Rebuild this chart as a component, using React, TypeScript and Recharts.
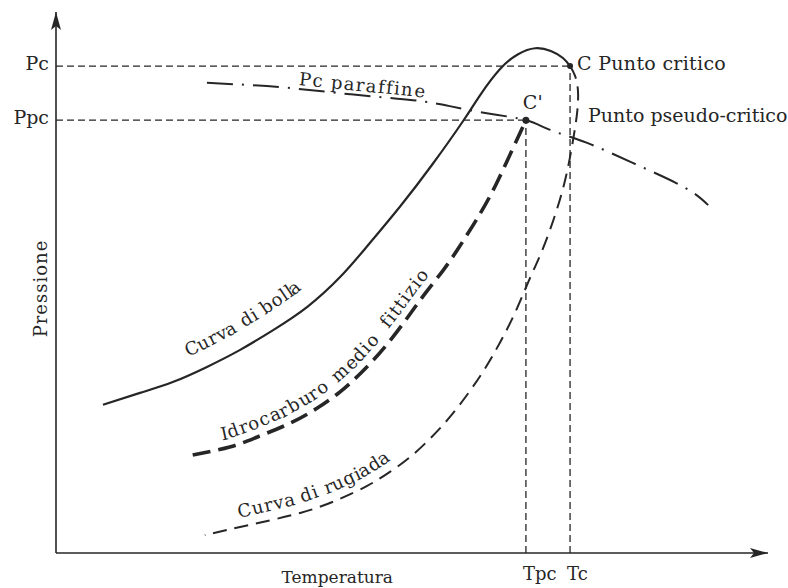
import { LineChart, Line, XAxis, YAxis, ReferenceLine, ReferenceDot } from 'recharts';

// critical and pseudo-critical coordinates (arbitrary T / P units, 0-100)
const Tc = 72.2;
const Tpc = 66;
const Pc = 90;
const Ppc = 80;

// bubble-point curve, ends at the critical point C
const bubbleCurve = [
  { t: 6.6, p: 27.4 },
  { t: 11.8, p: 29.6 },
  { t: 16.4, p: 31.6 },
  { t: 21.2, p: 34.4 },
  { t: 25.8, p: 37.5 },
  { t: 30.5, p: 41.2 },
  { t: 35.3, p: 45.5 },
  { t: 39.9, p: 51.0 },
  { t: 43.7, p: 56.7 },
  { t: 48.3, p: 64.0 },
  { t: 52.9, p: 71.9 },
  { t: 57.2, p: 79.9 },
  { t: 59.6, p: 84.7 },
  { t: 62.4, p: 89.5 },
  { t: 64.9, p: 92.2 },
  { t: 67.3, p: 93.3 },
  { t: 69.5, p: 92.8 },
  { t: 71.2, p: 91.5 },
  { t: 72.2, p: 90.0 },
];

// dew-point curve, from C downwards
const dewCurve = [
  { t: 72.2, p: 90.0 },
  { t: 72.9, p: 88.2 },
  { t: 73.3, p: 85.6 },
  { t: 73.2, p: 81.5 },
  { t: 72.5, p: 75.4 },
  { t: 71.5, p: 68.9 },
  { t: 70.1, p: 62.5 },
  { t: 68.3, p: 56.0 },
  { t: 66.4, p: 50.3 },
  { t: 64.5, p: 44.5 },
  { t: 62.4, p: 39.0 },
  { t: 60.3, p: 34.2 },
  { t: 58.1, p: 29.9 },
  { t: 55.3, p: 25.1 },
  { t: 52.5, p: 21.1 },
  { t: 49.7, p: 17.7 },
  { t: 46.9, p: 15.0 },
  { t: 43.7, p: 12.4 },
  { t: 39.5, p: 9.8 },
  { t: 34.3, p: 7.4 },
  { t: 27.2, p: 5.2 },
  { t: 20.9, p: 3.3 },
];

// vapour pressure of the fictitious average hydrocarbon, ends at C'
const pseudoCurve = [
  { t: 19.2, p: 18.1 },
  { t: 24.4, p: 19.6 },
  { t: 28.2, p: 21.4 },
  { t: 32.9, p: 24.0 },
  { t: 36.7, p: 26.8 },
  { t: 39.9, p: 29.8 },
  { t: 43.0, p: 33.5 },
  { t: 46.2, p: 38.1 },
  { t: 49.3, p: 43.4 },
  { t: 51.8, p: 47.9 },
  { t: 54.4, p: 52.3 },
  { t: 56.7, p: 56.7 },
  { t: 59.6, p: 62.8 },
  { t: 61.9, p: 68.4 },
  { t: 64.0, p: 74.3 },
  { t: 66.0, p: 80.0 },
];

// critical pressure of the paraffins
const paraffinPc = [
  { t: 21.2, p: 86.9 },
  { t: 31.5, p: 86.1 },
  { t: 41.3, p: 84.8 },
  { t: 50.1, p: 83.7 },
  { t: 55.3, p: 82.6 },
  { t: 60.5, p: 81.3 },
  { t: 66.0, p: 80.0 },
  { t: 69.4, p: 78.2 },
  { t: 74.6, p: 75.8 },
  { t: 81.0, p: 72.1 },
  { t: 88.1, p: 67.7 },
  { t: 91.6, p: 64.3 },
];

const pressureTicks = [Ppc, Pc];
const pressureNames = ['Ppc', 'Pc'];
const temperatureTicks = [Tpc, Tc];
const temperatureNames = ['Tpc', 'Tc'];

const ink = '#262626';
const serif = '"DejaVu Serif", serif';

type NoteOpts = {
  dx?: number;
  dy?: number;
  anchor?: string;
  size?: number;
  spacing?: number;
  dot?: number;
};

// free text pinned to a data point
function note(key: string, t: number, p: number, text: string, opts: NoteOpts = {}) {
  const { dx = 0, dy = 0, anchor = 'middle', size = 19, spacing = 0.3, dot = 0 } = opts;
  return (
    <ReferenceDot
      key={key}
      x={t}
      y={p}
      r={dot}
      ifOverflow="visible"
      shape={(s: any) => (
        <g>
          {dot > 0 && <circle cx={s.cx} cy={s.cy} r={dot} fill={ink} />}
          <text x={s.cx + dx} y={s.cy + dy} textAnchor={anchor as any} fontFamily={serif} fontSize={size} letterSpacing={spacing} fill={ink}>
            {text}
          </text>
        </g>
      )}
    />
  );
}

// words that run along a series; each word starts where the series reaches its temperature
function alongCurve(
  id: string,
  words: { text: string; t: number }[],
  opts: { dy: number; size?: number; spacing?: number; reverse?: boolean }
) {
  const { dy, size = 18, spacing = 1, reverse = false } = opts;
  return (props: any) => {
    if (props.index !== 0 || !props.points) return <g key={`${id}-${props.index}`} />;
    let pts = props.points.map((q: any) => ({ x: q.x, y: q.y, t: q.payload.t }));
    if (reverse) pts = pts.slice().reverse();
    const d = pts.map((q: any, i: number) => `${i ? 'L' : 'M'}${q.x},${q.y}`).join(' ');

    const offsetAt = (startT: number) => {
      let len = 0;
      for (let i = 1; i < pts.length; i++) {
        const a = pts[i - 1];
        const b = pts[i];
        const seg = Math.hypot(b.x - a.x, b.y - a.y);
        if ((startT - a.t) * (startT - b.t) <= 0 && b.t !== a.t) {
          return len + (seg * (startT - a.t)) / (b.t - a.t);
        }
        len += seg;
      }
      return 0;
    };

    return (
      <g key={`${id}-0`}>
        <path id={id} d={d} fill="none" stroke="none" />
        {words.map((w) => (
          <text key={w.text} dy={dy} fontFamily={serif} fontSize={size} letterSpacing={spacing} fill={ink}>
            <textPath href={`#${id}`} startOffset={offsetAt(w.t)}>
              {w.text}
            </textPath>
          </text>
        ))}
      </g>
    );
  };
}

export default function App() {
  return (
    <div style={{ position: 'absolute', left: 0, top: 0, width: 788, height: 588, background: '#fff' }}>
      <LineChart width={788} height={588} margin={{ top: 12, right: 20, bottom: 0, left: 0 }}>
        <XAxis
          type="number"
          dataKey="t"
          domain={[0, 100]}
          ticks={temperatureTicks}
          height={35}
          tickSize={0}
          tickMargin={0}
          tickLine={false}
          axisLine={{ stroke: ink, strokeWidth: 1.6 }}
          tick={(props: any) => (
            <text x={props.x - 3} y={props.y + 27} textAnchor="start" fontFamily={serif} fontSize={18} fill={ink}>
              {temperatureNames[temperatureTicks.indexOf(props.payload.value)]}
            </text>
          )}
          label={(props: any) => {
            const vb = props.viewBox;
            return (
              <text x={vb.x + vb.width * 0.395} y={vb.y + 30} textAnchor="middle" fontFamily={serif} fontSize={17} fill={ink}>
                Temperatura
              </text>
            );
          }}
        />
        <YAxis
          type="number"
          dataKey="p"
          domain={[0, 100]}
          ticks={pressureTicks}
          width={56}
          tickSize={0}
          tickMargin={7}
          tickLine={false}
          axisLine={{ stroke: ink, strokeWidth: 1.6 }}
          tick={(props: any) => (
            <text x={props.x} y={props.y + 4} textAnchor="end" fontFamily={serif} fontSize={19} fill={ink}>
              {pressureNames[pressureTicks.indexOf(props.payload.value)]}
            </text>
          )}
          label={(props: any) => {
            const vb = props.viewBox;
            const x = 47;
            const y = vb.y + vb.height / 2 + 6;
            return (
              <text x={x} y={y} transform={`rotate(-90 ${x} ${y})`} textAnchor="middle" fontFamily={serif} fontSize={18} letterSpacing={1} fill={ink}>
                Pressione
              </text>
            );
          }}
        />

        {/* guide lines to the axes */}
        <ReferenceLine segment={[{ x: 0, y: Pc }, { x: Tc, y: Pc }]} stroke={ink} strokeWidth={1.3} strokeDasharray="7 4" />
        <ReferenceLine segment={[{ x: 0, y: Ppc }, { x: Tpc, y: Ppc }]} stroke={ink} strokeWidth={1.3} strokeDasharray="7 4" />
        <ReferenceLine segment={[{ x: Tpc, y: 0 }, { x: Tpc, y: Ppc }]} stroke={ink} strokeWidth={1.3} strokeDasharray="7 4" />
        <ReferenceLine segment={[{ x: Tc, y: 0 }, { x: Tc, y: Pc }]} stroke={ink} strokeWidth={1.3} strokeDasharray="7 4" />

        <Line
          data={paraffinPc}
          dataKey="p"
          type="natural"
          stroke={ink}
          strokeWidth={2}
          strokeDasharray="26 9 2 9"
          dot={alongCurve('lbl-paraffin', [{ text: 'Pc paraffine', t: 34 }], { dy: -4, spacing: 1.4 })}
          activeDot={false}
          isAnimationActive={false}
        />
        <Line
          data={bubbleCurve}
          dataKey="p"
          type="natural"
          stroke={ink}
          strokeWidth={2.2}
          dot={alongCurve('lbl-bubble', [{ text: 'Curva di bolla', t: 19.5 }], { dy: -17, spacing: 0.8 })}
          activeDot={false}
          isAnimationActive={false}
        />
        <Line
          data={dewCurve}
          dataKey="p"
          type="natural"
          stroke={ink}
          strokeWidth={2}
          strokeDasharray="14 8"
          dot={alongCurve('lbl-dew', [{ text: 'Curva di rugiada', t: 26 }], { dy: -9, spacing: 0.9, reverse: true })}
          activeDot={false}
          isAnimationActive={false}
        />
        <Line
          data={pseudoCurve}
          dataKey="p"
          type="natural"
          stroke={ink}
          strokeWidth={3.6}
          strokeDasharray="18 8"
          dot={alongCurve(
            'lbl-pseudo',
            [
              { text: 'Idrocarburo', t: 23.6 },
              { text: 'medio', t: 40.3 },
              { text: 'fittizio', t: 47.6 },
            ],
            { dy: -8, spacing: 1.3 }
          )}
          activeDot={false}
          isAnimationActive={false}
        />

        {/* axis arrowheads */}
        <ReferenceDot
          x={0}
          y={100}
          r={0}
          ifOverflow="visible"
          shape={(s: any) => (
            <polygon points={`${s.cx},${s.cy} ${s.cx - 5},${s.cy + 18} ${s.cx},${s.cy + 14} ${s.cx + 5},${s.cy + 18}`} fill={ink} />
          )}
        />
        <ReferenceDot
          x={100}
          y={0}
          r={0}
          ifOverflow="visible"
          shape={(s: any) => (
            <polygon points={`${s.cx},${s.cy} ${s.cx - 18},${s.cy - 5} ${s.cx - 14},${s.cy} ${s.cx - 18},${s.cy + 5}`} fill={ink} />
          )}
        />

        {note('c', Tc, Pc, 'C Punto critico', { dot: 3, dx: 7, dy: 4, anchor: 'start' })}
        {note('cp', Tpc, Ppc, "C'", { dot: 3.5, dx: 7, dy: -11 })}
        {note('pp', Tc, Ppc, 'Punto pseudo-critico', { dx: 18, dy: 2, anchor: 'start', spacing: 0 })}
      </LineChart>
    </div>
  );
}
